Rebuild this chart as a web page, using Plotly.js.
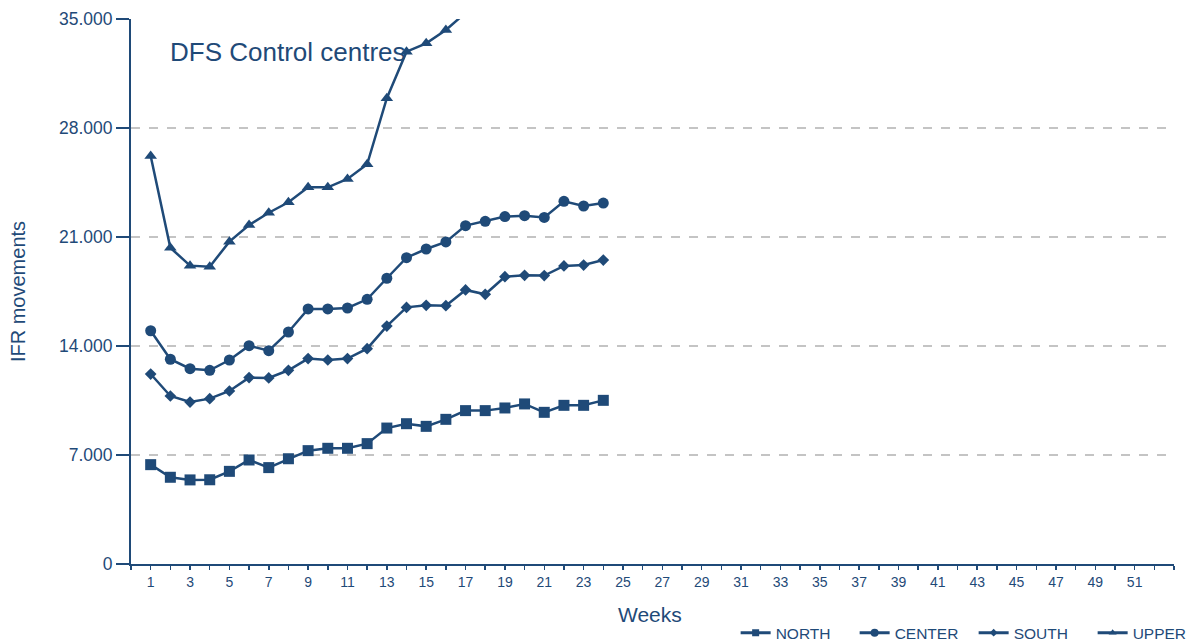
<!DOCTYPE html>
<html>
<head>
<meta charset="utf-8">
<script src="https://cdn.plot.ly/plotly-3.0.1.min.js"></script>
<style>html,body{margin:0;padding:0;background:#fff;}#chart{width:1204px;height:644px;}</style>
</head>
<body>
<div id="chart"></div>
<script>
const weeks = [1,2,3,4,5,6,7,8,9,10,11,12,13,14,15,16,17,18,19,20,21,22,23,24];
const north = [6380,5570,5400,5410,5950,6680,6190,6760,7280,7430,7430,7730,8730,9010,8840,9290,9850,9850,10020,10280,9740,10190,10190,10510];
const center = [14980,13150,12540,12440,13100,14020,13700,14900,16380,16380,16440,17000,18350,19670,20230,20680,21730,22010,22310,22370,22260,23290,22990,23180];
const south = [12200,10790,10400,10620,11110,11970,11950,12440,13190,13100,13190,13830,15280,16480,16610,16590,17600,17320,18450,18540,18520,19140,19200,19520];
const upperWeeks = [1,2,3,4,5,6,7,8,9,10,11,12,13,14,15,16,17];
const upper = [26200,20310,19160,19090,20700,21770,22560,23230,24190,24190,24730,25670,29910,32900,33440,34290,35400];
const xTickVals = [1,3,5,7,9,11,13,15,17,19,21,23,25,27,29,31,33,35,37,39,41,43,45,47,49,51];
const yTickVals = [0,7000,14000,21000,28000,35000];
const seriesNames = ['NORTH','CENTER','SOUTH','UPPER'];

const col = '#1f4a78';
function tr(name, x, y, sym, size){
  return {type:'scatter', mode:'lines+markers', name:name, x:x, y:y, showlegend:false,
    line:{color:col, width:2.5},
    marker:{symbol:sym, size:size, color:col}, cliponaxis:true};
}
function leg(name, sym, size){
  return {type:'scatter', mode:'lines+markers', name:name, x:[null], y:[null], showlegend:true,
    line:{color:col, width:3}, marker:{symbol:sym, size:size, color:col}};
}
const data = [
  tr(seriesNames[0], weeks, north, 'square', 11),
  tr(seriesNames[1], weeks, center, 'circle', 11),
  tr(seriesNames[2], weeks, south, 'diamond', 9),
  tr(seriesNames[3], upperWeeks, upper, 'triangle-up', 11),
  leg(seriesNames[0], 'square', 7),
  leg(seriesNames[1], 'circle', 8),
  leg(seriesNames[2], 'diamond', 6),
  leg(seriesNames[3], 'triangle-up', 7)
];
const layout = {
  width:1204, height:644,
  margin:{l:131, r:30, t:19, b:80, autoexpand:false},
  paper_bgcolor:'#fff', plot_bgcolor:'#fff',
  separators:',.',
  font:{family:'Liberation Sans, Arial, sans-serif', color:col, size:14},
  showlegend:true,
  legend:{orientation:'h', xref:'container', yref:'container', x:0.611, xanchor:'left', y:0.017, yanchor:'middle',
    font:{size:15.5, color:col}, itemwidth:30, tracegroupgap:0, entrywidth:74},
  xaxis:{range:[0,53], tickmode:'array', tickvals:xTickVals, ticktext:xTickVals.map(String),
    showgrid:false, zeroline:false, showline:true, linecolor:col, linewidth:2,
    ticks:'outside', ticklen:4, tickwidth:1.5, tickcolor:col,
    minor:{tickmode:'linear', tick0:0, dtick:1, ticks:'outside', ticklen:4, tickwidth:1.5, tickcolor:col, showgrid:false},
    tickfont:{size:14, color:col}},
  yaxis:{range:[0,35000], tickmode:'array', tickvals:yTickVals, tickformat:',d',
    showgrid:true, gridcolor:'#c4c4c4', griddash:'dash', gridwidth:2,
    zeroline:false, showline:true, linecolor:col, linewidth:2,
    ticks:'outside', ticklen:13, tickwidth:2, tickcolor:col,
    tickfont:{size:17.5, color:col},
    title:{text:'IFR movements', font:{size:20, color:col}, standoff:28}},
  annotations:[
    {text:'DFS Control centres', xref:'paper', yref:'paper', x:0.035, y:0.939,
      xanchor:'left', yanchor:'middle', showarrow:false, font:{size:26, color:col}},
    {text:'Weeks', xref:'paper', yref:'paper', x:0.498, y:-0.092,
      xanchor:'center', yanchor:'middle', showarrow:false, font:{size:21, color:col}}
  ]
};
Plotly.newPlot('chart', data, layout, {displayModeBar:false, staticPlot:true});
</script>
</body>
</html>
